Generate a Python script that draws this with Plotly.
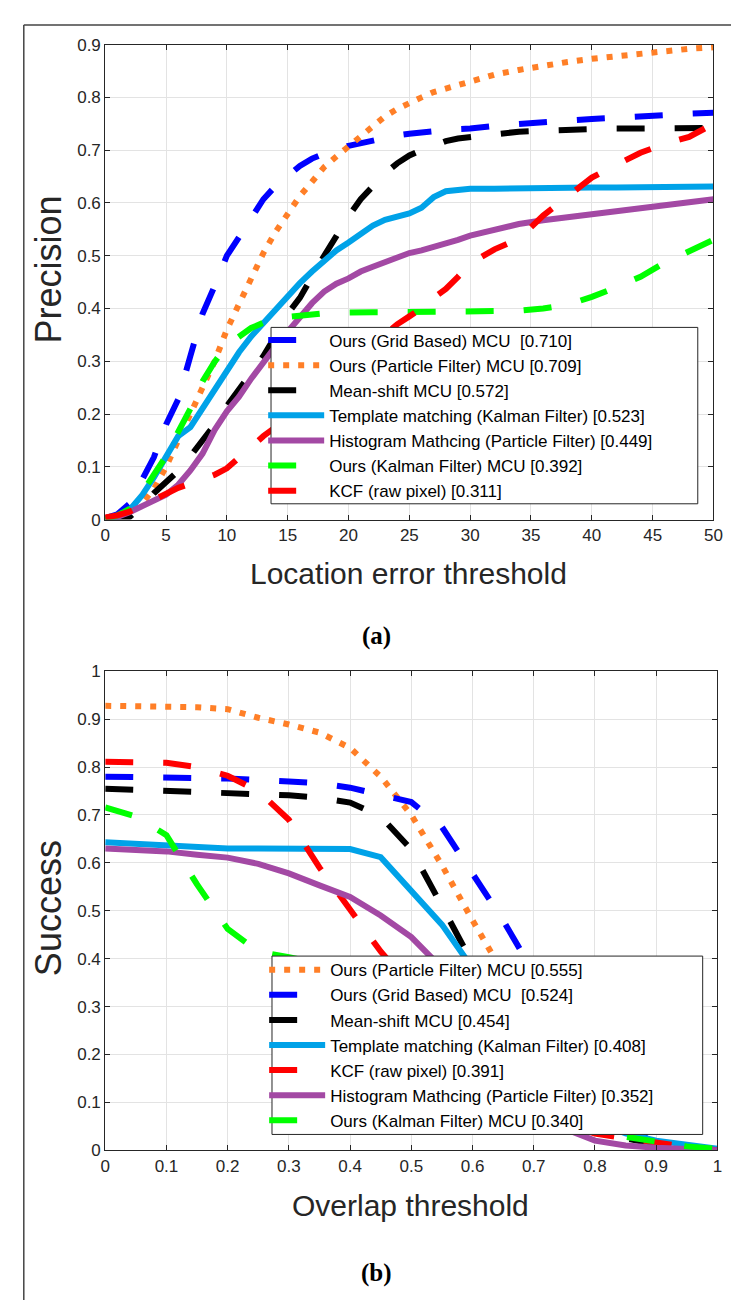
import plotly.graph_objects as go

# ---------------- (a) Precision vs location error threshold ----------------
thr = [0, 1, 2, 3, 4, 5, 6, 7, 8, 9, 10, 11, 12, 13, 14, 15, 16, 17, 18, 19, 20,
       21, 22, 23, 24, 25, 26, 27, 28, 29, 30, 32, 34, 36, 38, 40, 42, 44, 46, 48, 50]

prec_grid = [0.003, 0.01, 0.03, 0.075, 0.118, 0.18, 0.228, 0.31, 0.39, 0.443, 0.50,
             0.535, 0.572, 0.607, 0.632, 0.652, 0.67, 0.684, 0.695, 0.703, 0.708,
             0.713, 0.72, 0.724, 0.728, 0.731, 0.734, 0.736, 0.738, 0.74, 0.741,
             0.746, 0.75, 0.753, 0.756, 0.759, 0.762, 0.765, 0.767, 0.769, 0.771]
prec_particle = [0.003, 0.008, 0.015, 0.03, 0.058, 0.10, 0.15, 0.205, 0.25, 0.30, 0.36,
                 0.41, 0.458, 0.505, 0.545, 0.58, 0.613, 0.64, 0.668, 0.688, 0.707,
                 0.726, 0.745, 0.764, 0.778, 0.79, 0.80, 0.81, 0.817, 0.824, 0.831,
                 0.843, 0.852, 0.86, 0.867, 0.873, 0.878, 0.884, 0.889, 0.892, 0.895]
prec_meanshift = [0.0, 0.0, 0.005, 0.025, 0.05, 0.07, 0.092, 0.12, 0.148, 0.18, 0.215,
                  0.248, 0.278, 0.31, 0.348, 0.39, 0.42, 0.462, 0.50, 0.537, 0.575,
                  0.607, 0.632, 0.656, 0.675, 0.69, 0.70, 0.71, 0.717, 0.722, 0.725,
                  0.731, 0.735, 0.737, 0.739, 0.739, 0.741, 0.741, 0.742, 0.742, 0.742]
prec_template = [0.0, 0.005, 0.018, 0.045, 0.08, 0.117, 0.158, 0.175, 0.21, 0.25, 0.283,
                 0.317, 0.347, 0.372, 0.397, 0.425, 0.448, 0.47, 0.49, 0.51, 0.525,
                 0.54, 0.557, 0.568, 0.575, 0.58, 0.591, 0.611, 0.622, 0.625, 0.627,
                 0.627, 0.628, 0.628, 0.628, 0.629, 0.629, 0.63, 0.63, 0.631, 0.631]
prec_histogram = [0.0, 0.005, 0.014, 0.025, 0.036, 0.047, 0.066, 0.093, 0.125, 0.17, 0.205,
                  0.233, 0.267, 0.299, 0.328, 0.356, 0.383, 0.41, 0.432, 0.447, 0.457,
                  0.47, 0.479, 0.488, 0.497, 0.505, 0.51, 0.516, 0.523, 0.53, 0.538,
                  0.549, 0.56, 0.567, 0.573, 0.579, 0.585, 0.591, 0.597, 0.602, 0.607]
prec_kalman = [0.0, 0.008, 0.02, 0.05, 0.085, 0.12, 0.166, 0.21, 0.262, 0.299, 0.33,
               0.347, 0.363, 0.373, 0.38, 0.384, 0.387, 0.389, 0.391, 0.392, 0.393,
               0.393, 0.393, 0.393, 0.393, 0.393, 0.393, 0.393, 0.394, 0.394, 0.394,
               0.395, 0.396, 0.40, 0.407, 0.422, 0.44, 0.46, 0.487, 0.507, 0.53]
prec_kcf = [0.004, 0.008, 0.015, 0.027, 0.038, 0.05, 0.06, 0.068, 0.076, 0.085, 0.097,
            0.118, 0.14, 0.158, 0.175, 0.19, 0.21, 0.23, 0.25, 0.27, 0.29,
            0.31, 0.33, 0.35, 0.37, 0.385, 0.40, 0.42, 0.437, 0.46, 0.485,
            0.512, 0.532, 0.576, 0.613, 0.648, 0.672, 0.695, 0.712, 0.725, 0.75]

# ---------------- (b) Success vs overlap threshold ----------------
ovl = [0.0, 0.05, 0.1, 0.15, 0.2, 0.25, 0.3, 0.35, 0.4, 0.45, 0.5,
       0.55, 0.6, 0.65, 0.7, 0.75, 0.8, 0.85, 0.9, 0.95, 1.0]

succ_particle = [0.928, 0.928, 0.926, 0.925, 0.921, 0.903, 0.889, 0.872, 0.84, 0.78, 0.70,
                 0.595, 0.48, 0.37, 0.26, 0.16, 0.09, 0.04, 0.015, 0.005, 0.0]
succ_grid = [0.78, 0.78, 0.778, 0.777, 0.776, 0.774, 0.77, 0.766, 0.757, 0.742, 0.727,
             0.675, 0.578, 0.48, 0.37, 0.24, 0.12, 0.05, 0.02, 0.008, 0.0]
succ_meanshift = [0.755, 0.753, 0.751, 0.749, 0.747, 0.745, 0.741, 0.736, 0.726, 0.697, 0.628,
                  0.51, 0.39, 0.28, 0.18, 0.10, 0.05, 0.025, 0.012, 0.005, 0.0]
succ_template = [0.643, 0.64, 0.635, 0.632, 0.63, 0.63, 0.63, 0.63, 0.629, 0.612, 0.543,
                 0.471, 0.38, 0.27, 0.17, 0.10, 0.06, 0.035, 0.02, 0.01, 0.003]
succ_kcf = [0.811, 0.811, 0.809, 0.80, 0.782, 0.75, 0.69, 0.59, 0.50, 0.415, 0.34,
            0.27, 0.20, 0.14, 0.09, 0.055, 0.035, 0.025, 0.015, 0.007, 0.0]
succ_histogram = [0.63, 0.628, 0.624, 0.617, 0.611, 0.598, 0.578, 0.553, 0.529, 0.49, 0.445,
                  0.38, 0.28, 0.18, 0.10, 0.045, 0.02, 0.01, 0.005, 0.002, 0.0]
succ_kalman = [0.716, 0.697, 0.658, 0.555, 0.462, 0.415, 0.403, 0.39, 0.37, 0.34, 0.30,
               0.25, 0.20, 0.15, 0.10, 0.065, 0.04, 0.028, 0.018, 0.008, 0.003]

top_names = ["Ours (Grid Based) MCU  [0.710]", "Ours (Particle Filter) MCU [0.709]",
             "Mean-shift MCU [0.572]", "Template matching (Kalman Filter) [0.523]",
             "Histogram Mathcing (Particle Filter) [0.449]", "Ours (Kalman Filter) MCU [0.392]",
             "KCF (raw pixel) [0.311]"]
bot_names = ["Ours (Particle Filter) MCU [0.555]", "Ours (Grid Based) MCU  [0.524]",
             "Mean-shift MCU [0.454]", "Template matching (Kalman Filter) [0.408]",
             "KCF (raw pixel) [0.391]", "Histogram Mathcing (Particle Filter) [0.352]",
             "Ours (Kalman Filter) MCU [0.340]"]

BLUE, ORANGE, BLACK, CYAN = "#0000FF", "#FF7F27", "#000000", "#00A2E8"
PURPLE, GREEN, RED = "#A349A4", "#00FF00", "#FF0000"
DASH, DOT = "28px,30px", "6px,9px"
LW = 6

fig = go.Figure()

top_series = [
    (prec_grid, BLUE, DASH), (prec_particle, ORANGE, DOT), (prec_meanshift, BLACK, DASH),
    (prec_template, CYAN, "solid"), (prec_histogram, PURPLE, "solid"),
    (prec_kalman, GREEN, DASH), (prec_kcf, RED, DASH),
]
for name, (ys, col, dash) in zip(top_names, top_series):
    fig.add_trace(go.Scatter(x=thr, y=ys, name=name, mode="lines",
                             line=dict(color=col, width=LW, dash=dash),
                             xaxis="x", yaxis="y", legend="legend"))

bot_series = [
    (succ_particle, ORANGE, DOT), (succ_grid, BLUE, DASH), (succ_meanshift, BLACK, DASH),
    (succ_template, CYAN, "solid"), (succ_kcf, RED, DASH),
    (succ_histogram, PURPLE, "solid"), (succ_kalman, GREEN, DASH),
]
for name, (ys, col, dash) in zip(bot_names, bot_series):
    fig.add_trace(go.Scatter(x=ovl, y=ys, name=name, mode="lines",
                             line=dict(color=col, width=LW, dash=dash),
                             xaxis="x2", yaxis="y2", legend="legend2"))

W, H = 739, 1302
AX = "#262626"
GRID = "#E3E3E3"
SANS = "Liberation Sans, Arial, sans-serif"
tickfont = dict(family=SANS, size=17, color=AX)

def axis(domain, rng, dtick, anchor):
    return dict(domain=domain, range=rng, dtick=dtick, tick0=0, anchor=anchor,
                showgrid=True, gridcolor=GRID, gridwidth=1,
                showline=True, linecolor=AX, linewidth=1, mirror="ticks",
                ticks="inside", ticklen=5, tickcolor=AX, tickwidth=1,
                tickfont=tickfont, zeroline=False, fixedrange=True)

legend_style = dict(xanchor="left", yanchor="top", bgcolor="rgba(0,0,0,0)",
                    borderwidth=0,
                    font=dict(family=SANS, size=17, color="#000000"),
                    itemwidth=56, tracegroupgap=0)

fig.update_layout(
    width=W, height=H, autosize=False,
    margin=dict(l=0, r=0, t=0, b=0),
    paper_bgcolor="white", plot_bgcolor="white",
    font=dict(family=SANS, color=AX),
    xaxis=axis([94 / W, 714 / W], [0, 50], 5, "y"),
    yaxis=axis([1 - 510 / H, 1 - 28 / H], [0, 0.9], 0.1, "x"),
    xaxis2=axis([94 / W, 718 / W], [0, 1], 0.1, "y2"),
    yaxis2=axis([1 - 1150 / H, 1 - 664 / H], [0, 1], 0.1, "x2"),
    legend=dict(x=255 / W, y=1 - 310 / H, **legend_style),
    legend2=dict(x=256 / W, y=1 - 949 / H, **legend_style),
    showlegend=True,
)

# legend frames (white boxes above the curves, legends drawn on top)
fig.add_shape(type="rect", xref="paper", yref="paper", layer="above",
              x0=263 / W, x1=698 / W, y0=1 - 494 / H, y1=1 - 315 / H,
              fillcolor="white", line=dict(color=AX, width=1))
fig.add_shape(type="rect", xref="paper", yref="paper", layer="above",
              x0=264 / W, x1=703 / W, y0=1 - 1134 / H, y1=1 - 953 / H,
              fillcolor="white", line=dict(color=AX, width=1))

xtitle_font = dict(family=SANS, size=30, color=AX)
ytitle_font = dict(family=SANS, size=36, color=AX)
cap_font = dict(family="Liberation Serif, Times New Roman, serif", size=25, color="#000000")
fig.add_annotation(text="Precision", x=36 / W, y=1 - 256 / H, xref="paper", yref="paper",
                   textangle=-90, showarrow=False, font=ytitle_font,
                   xanchor="center", yanchor="middle")
fig.add_annotation(text="Location error threshold", x=403 / W, y=1 - 565 / H,
                   xref="paper", yref="paper", showarrow=False, font=xtitle_font,
                   xanchor="center", yanchor="middle")
fig.add_annotation(text="<b>(a)</b>", x=371 / W, y=1 - 628 / H, xref="paper", yref="paper",
                   showarrow=False, font=cap_font, xanchor="center", yanchor="middle")
fig.add_annotation(text="Success", x=36 / W, y=1 - 904 / H, xref="paper", yref="paper",
                   textangle=-90, showarrow=False, font=ytitle_font,
                   xanchor="center", yanchor="middle")
fig.add_annotation(text="Overlap threshold", x=405 / W, y=1 - 1206 / H,
                   xref="paper", yref="paper", showarrow=False, font=xtitle_font,
                   xanchor="center", yanchor="middle")
fig.add_annotation(text="<b>(b)</b>", x=371 / W, y=1 - 1275 / H, xref="paper", yref="paper",
                   showarrow=False, font=cap_font, xanchor="center", yanchor="middle")

# page frame lines
fig.add_shape(type="line", xref="paper", yref="paper", x0=11 / W, x1=1, y0=1 - 8 / H, y1=1 - 8 / H,
              line=dict(color="#444444", width=1.5))
fig.add_shape(type="line", xref="paper", yref="paper", x0=11 / W, x1=11 / W, y0=0, y1=1 - 8 / H,
              line=dict(color="#444444", width=1.5))

fig.write_html("out.html")
